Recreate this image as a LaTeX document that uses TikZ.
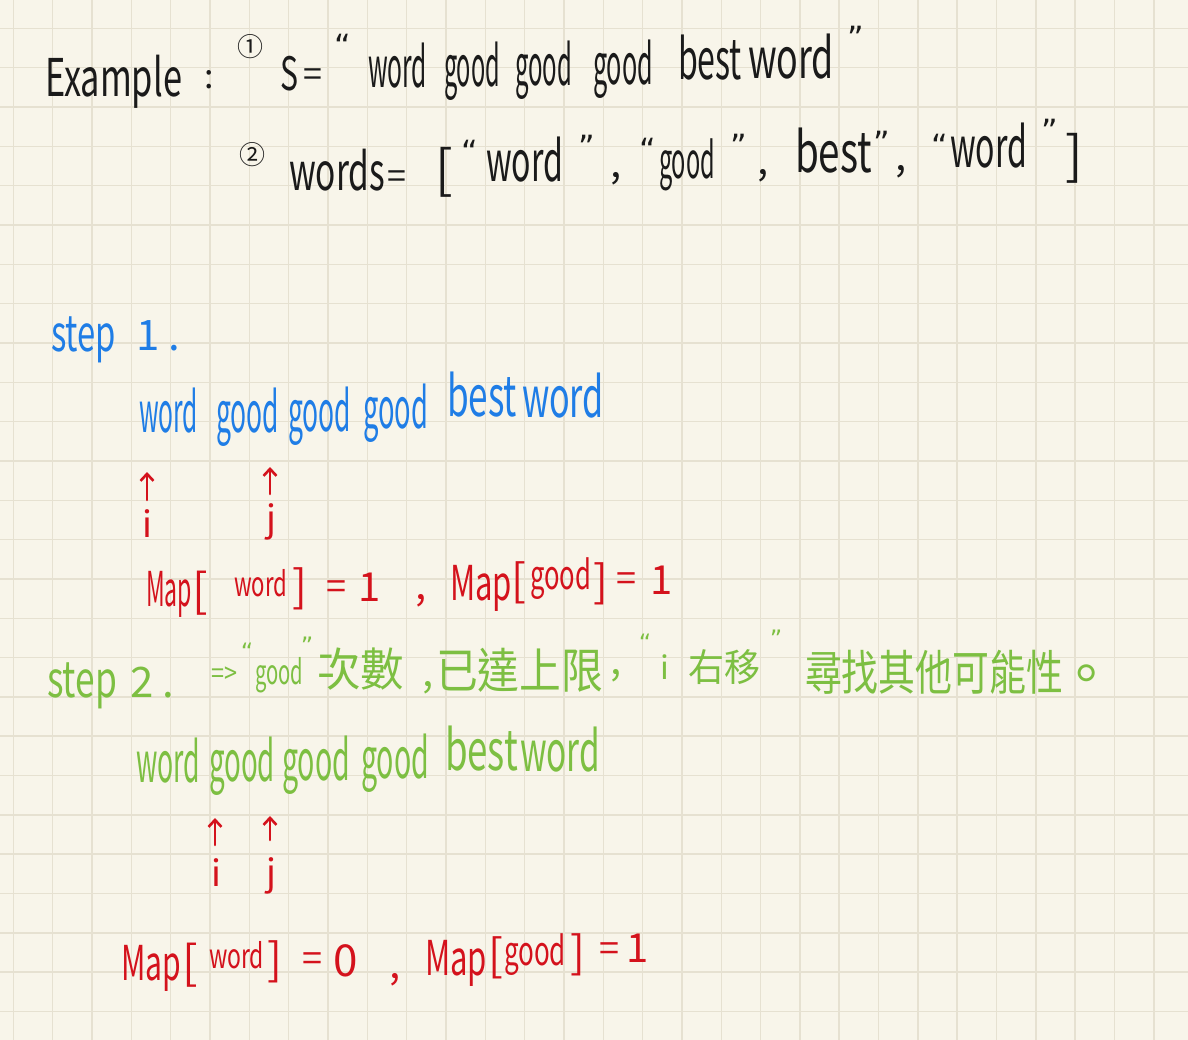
\documentclass[tikz,border=0pt]{standalone}
\usepackage{fontspec}
\usepackage{graphicx}
\setmainfont{Noto Sans CJK TC}
\newfontfamily\qf{DejaVu Sans}
\usetikzlibrary{arrows.meta}
\definecolor{paper}{HTML}{F8F5EA}
\definecolor{gridc}{HTML}{E6E1D1}
\definecolor{ink}{HTML}{1A1A1A}
\definecolor{inkblue}{HTML}{1F7DE6}
\definecolor{inkred}{HTML}{D4121C}
\definecolor{inkgreen}{HTML}{7DBF42}
\newcommand{\hw}[2]{\resizebox{#1pt}{\height}{#2}}
\tikzset{
  txt/.style={anchor=base west, inner sep=0pt, outer sep=0pt},
  sym/.style={anchor=center, inner sep=0pt, outer sep=0pt},
  fs/.style={font=\fontsize{#1}{#1}\selectfont},
  qt/.style={anchor=center, inner sep=0pt, outer sep=0pt, font=\qf\fontsize{32}{32}\selectfont},
  sq/.style={anchor=center, inner sep=0pt, outer sep=0pt, font=\qf\fontsize{24}{24}\selectfont},
  ptr/.style={draw=inkred, line width=2.6pt, line cap=round, -{Straight Barb[length=7pt,width=13pt,line width=2.6pt]}},
}
\begin{document}
\begin{tikzpicture}[x=1pt,y=-1pt]
\fill[paper] (0,0) rectangle (1188,1040);
\useasboundingbox (0,0) rectangle (1188,1040);
\foreach \k in {0,...,29} {\draw[gridc, line width=1.5pt] ({13.3+39.33*\k},0) -- ++(0,1040);}
\foreach \k in {0,...,25} {\draw[gridc, line width=1.5pt] (0,{28.3+39.33*\k}) -- ++(1188,0);}

% ---------------- Example (black)
\begin{scope}[ink]
\node[txt,fs=52] (ex) at (45,97) {\hw{137}{Example}};
\node[sym,fs=34] (excol) at (209,80) {:};
\node[sym,fs=26] (n1) at (250,47) {①};
\node[txt,fs=46] (sS) at (280,91) {\hw{18}{S}};
\node[sym,fs=34] (sEq) at (313,78) {=};
\node[qt] (sQa) at (343,46) {“};
\node[txt,fs=56] (sW1) at (368,88) {\hw{59}{word}};
\node[txt,fs=56] (sG1) at (444,87) {\hw{56}{good}};
\node[txt,fs=56] (sG2) at (515,86) {\hw{57}{good}};
\node[txt,fs=56] (sG3) at (593,85) {\hw{60}{good}};
\node[txt,fs=56] (sB) at (678,80) {\hw{64}{best}};
\node[txt,fs=56] (sW2) at (748,79) {\hw{86}{word}};
\node[qt] (sQb) at (856,38) {”};

\node[sym,fs=26] (n2) at (252,155) {②};
\node[txt,fs=52] (wW) at (289,191) {\hw{96}{words}};
\node[sym,fs=34] (wEq) at (397,180) {=};
\node[sym,fs=52] (wLb) at (444,172) {[};
\node[qt] (wQ1) at (470,152) {“};
\node[txt,fs=56] (wA) at (486,182) {\hw{77}{word}};
\node[qt] (wQ2) at (587,147) {”};
\node[sym,fs=40] (wC1) at (616,179) {,};
\node[qt] (wQ3) at (648,150) {“};
\node[txt,fs=50] (wB) at (659,179) {\hw{56}{good}};
\node[qt] (wQ4) at (739,146) {”};
\node[sym,fs=40] (wC2) at (763,176) {,};
\node[txt,fs=56] (wC) at (795,173) {\hw{77}{best}};
\node[qt] (wQ5) at (882,143) {”};
\node[sym,fs=40] (wC3) at (901,172) {,};
\node[qt] (wQ6) at (940,146) {“};
\node[txt,fs=56] (wD) at (950,168) {\hw{77}{word}};
\node[qt] (wQ7) at (1050,131) {”};
\node[sym,fs=52] (wRb) at (1074,158) {]};
\end{scope}

% ---------------- step 1 (blue)
\begin{scope}[inkblue]
\node[txt,fs=50] (st1) at (51,351) {\hw{65}{step}};
\node[txt,fs=42] (st1n) at (136,351) {1 .};
\node[txt,fs=56] (bW1) at (139,432) {\hw{59}{word}};
\node[txt,fs=56] (bG1) at (216,432) {\hw{63}{good}};
\node[txt,fs=56] (bG2) at (288,431) {\hw{63}{good}};
\node[txt,fs=56] (bG3) at (363,428) {\hw{65}{good}};
\node[txt,fs=56] (bB) at (447,416) {\hw{70}{best}};
\node[txt,fs=56] (bW2) at (522,417) {\hw{82}{word}};
\end{scope}

% ---------------- pointers and map 1 (red)
\begin{scope}[inkred]
\node[sym,fs=36] (li1) at (147,524) {i};
\node[sym,fs=36] (lj1) at (271,522) {j};
\coordinate (ai1s) at (147,500); \coordinate (ai1e) at (147,472);
\coordinate (aj1s) at (270,494); \coordinate (aj1e) at (270,467);
\draw[ptr] (ai1s) -- (ai1e);
\draw[ptr] (aj1s) -- (aj1e);

\node[txt,fs=48] (m1) at (146,606) {\hw{46}{Map}};
\node[sym,fs=46] (m1lb) at (200,593) {[};
\node[txt,fs=34] (m1w) at (234,596) {\hw{53}{word}};
\node[sym,fs=44] (m1rb) at (300,589) {]};
\node[sym,fs=36] (m1eq) at (336,590) {=};
\node[sym,fs=40] (m1v) at (370,587) {1};
\node[sym,fs=40] (m1c) at (421,601) {,};
\node[txt,fs=48] (m2) at (450,600) {\hw{62}{Map}};
\node[sym,fs=44] (m2lb) at (519,583) {[};
\node[txt,fs=40] (m2g) at (530,589) {\hw{61}{good}};
\node[sym,fs=44] (m2rb) at (601,584) {]};
\node[sym,fs=36] (m2eq) at (626,582) {=};
\node[sym,fs=40] (m2v) at (662,580) {1};
\end{scope}

% ---------------- step 2 (green)
\begin{scope}[inkgreen]
\node[txt,fs=50] (st2) at (47,697) {\hw{70}{step}};
\node[txt,fs=42] (st2n) at (130,697) {2 .};
\node[sym,fs=28] (impl) at (224,675) {\hw{26}{=>}};
\node[sq] (gq1) at (247,652) {“};
\node[txt,fs=34] (gGood) at (255,684) {\hw{48}{good}};
\node[sq] (gq2) at (307,646) {”};
\node[txt,fs=46] (gCs) at (317,686) {\hw{87}{次數}};
\node[sym,fs=40] (gc1) at (428,688) {,};
\node[txt,fs=48] (gYd) at (436,688) {\hw{167}{已達上限}};
\node[sym,fs=40] (gc2) at (616,676) {,};
\node[sq] (gq3) at (645,643) {“};
\node[sym,fs=32] (gI) at (665,667) {i};
\node[txt,fs=38] (gYy) at (688,681) {\hw{72}{右移}};
\node[sq] (gq4) at (776,639) {”};
\node[txt,fs=48] (gXz) at (805,690) {\hw{258}{尋找其他可能性}};
\node[sym,fs=56] (gEnd) at (1086,680) {。};

\node[txt,fs=56] (gW1) at (136,782) {\hw{64}{word}};
\node[txt,fs=56] (gG1) at (209,781) {\hw{66}{good}};
\node[txt,fs=56] (gG2) at (282,780) {\hw{68}{good}};
\node[txt,fs=56] (gG3) at (361,778) {\hw{68}{good}};
\node[txt,fs=56] (gB) at (445,770) {\hw{73}{best}};
\node[txt,fs=56] (gW2) at (520,771) {\hw{80}{word}};
\end{scope}

% ---------------- pointers and map 2 (red)
\begin{scope}[inkred]
\node[sym,fs=36] (li2) at (216,873) {i};
\node[sym,fs=36] (lj2) at (271,876) {j};
\coordinate (ai2s) at (215,845); \coordinate (ai2e) at (215,818);
\coordinate (aj2s) at (270,840); \coordinate (aj2e) at (270,816);
\draw[ptr] (ai2s) -- (ai2e);
\draw[ptr] (aj2s) -- (aj2e);

\node[txt,fs=48] (m3) at (121,980) {\hw{60}{Map}};
\node[sym,fs=46] (m3lb) at (190,965) {[};
\node[txt,fs=34] (m3w) at (209,968) {\hw{55}{word}};
\node[sym,fs=44] (m3rb) at (275,962) {]};
\node[sym,fs=36] (m3eq) at (312,962) {=};
\node[sym,fs=44] (m3v) at (346,961) {0};
\node[sym,fs=40] (m3c) at (395,980) {,};
\node[txt,fs=48] (m4) at (425,975) {\hw{62}{Map}};
\node[sym,fs=44] (m4lb) at (496,958) {[};
\node[txt,fs=40] (m4g) at (504,965) {\hw{62}{good}};
\node[sym,fs=44] (m4rb) at (578,955) {]};
\node[sym,fs=36] (m4eq) at (609,952) {=};
\node[sym,fs=40] (m4v) at (638,948) {1};
\end{scope}
\end{tikzpicture}
\end{document}
